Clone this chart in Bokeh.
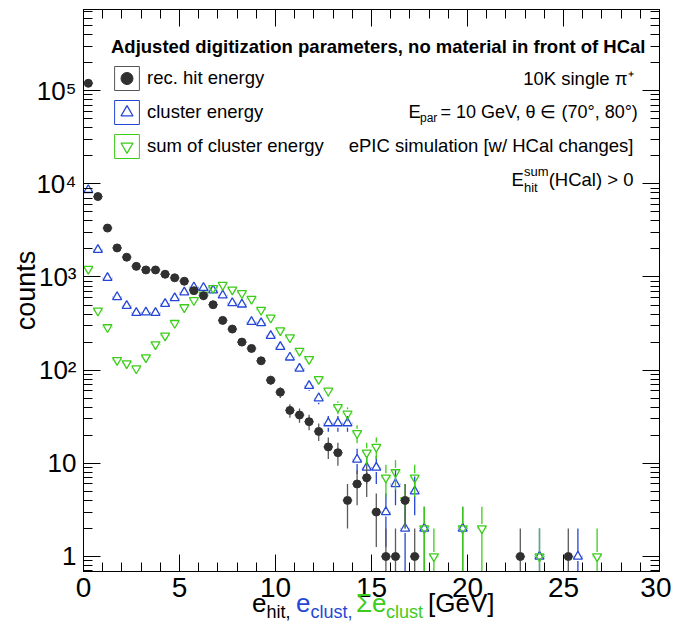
import numpy as np
from bokeh.plotting import figure
from bokeh.layouts import column
from bokeh.models import (Range1d, LinearAxis, LogAxis, FixedTicker, SingleIntervalTicker,
                          Label, Legend, LegendItem, Div)
from bokeh.embed import file_html
from bokeh.resources import INLINE

# ---------------- data ----------------
hit_x = [0.25, 0.75, 1.25, 1.75, 2.25, 2.75, 3.25, 3.75, 4.25, 4.75, 5.25, 5.75, 6.25,
         6.75, 7.25, 7.75, 8.25, 8.75, 9.25, 9.75, 10.25, 10.75, 11.25, 11.75, 12.25,
         12.75, 13.25, 13.75, 14.25, 14.75, 15.25, 15.75, 16.25, 16.75, 17.25, 22.75, 25.25]
hit_y = [120000, 7300, 3350, 2050, 1630, 1300, 1190, 1190, 1070, 980, 900, 713, 630,
         504, 342, 276, 200, 171, 126, 78, 58, 37, 33, 28, 22,
         15, 13, 4, 6, 7, 3, 1, 1, 4, 1, 1, 1]

clu_x = [0.25, 0.75, 1.25, 1.75, 2.25, 2.75, 3.25, 3.75, 4.25, 4.75, 5.25, 5.75, 6.25,
         6.75, 7.25, 7.75, 8.25, 8.75, 9.25, 9.75, 10.25, 10.75, 11.25, 11.75, 12.25,
         12.75, 13.25, 13.75, 14.25, 14.75, 15.25, 15.75, 16.25, 16.75, 17.25, 17.75,
         19.75, 23.75, 25.75]
clu_y = [8600, 1960, 980, 610, 490, 413, 417, 413, 516, 594, 684, 776, 767,
         719, 635, 526, 508, 330, 320, 234, 178, 137, 104, 68, 50,
         27, 27, 27, 11, 9, 9, 3, 6, 2, 5, 2,
         2, 1, 1]

sum_x = [0.25, 0.75, 1.25, 1.75, 2.25, 2.75, 3.25, 3.75, 4.25, 4.75, 5.25, 5.75, 6.25,
         6.75, 7.25, 7.75, 8.25, 8.75, 9.25, 9.75, 10.25, 10.75, 11.25, 11.75, 12.25,
         12.75, 13.25, 13.75, 14.25, 14.75, 15.25, 15.75, 16.25, 16.75, 17.25, 17.75, 18.25,
         19.75, 20.75, 23.75, 26.75]
sum_y = [1220, 434, 288, 128, 118, 104, 137, 189, 234, 320, 472, 562, 646,
         757, 820, 730, 668, 580, 442, 365, 267, 224, 161, 131, 80,
         60, 40, 34, 21, 13, 15, 7, 8, 4, 7, 2, 1,
         2, 2, 1, 1]

bin_width = 0.5
x_ticks_major = [0, 5, 10, 15, 20, 25, 30]
y_ticks_major = [1, 10, 100, 1000, 10000, 100000]
y_tick_labels = ["1", "10", "10²", "10³", "10⁴", "10⁵"]

legend_labels = ["rec. hit energy", "cluster energy", "sum of cluster energy"]
legend_title = "Adjusted digitization parameters, no material in front of HCal"
y_title = "counts"

# ---------------- style / layout ----------------
FONT = "Liberation Sans"
C_HIT, C_HIT_BAR = "#303030", "#5a5a5a"
C_CLU = "#2446d6"
C_SUM = "#3dcc1a"

X_MIN, X_MAX = 0.0, 30.0
Y_MIN, Y_MAX = 0.69, 7.43e5
B_LEFT, B_RIGHT, B_TOP, B_BOTTOM = 83, 12, 9, 40
FRAME_W, FRAME_H = 576, 562
W, H = B_LEFT + FRAME_W + B_RIGHT, B_TOP + FRAME_H + B_BOTTOM
M = 1  # effective page offset of the canvas
L0, L1 = np.log10(Y_MIN), np.log10(Y_MAX)


def xd(px):
    return X_MIN + (px - M - B_LEFT) / FRAME_W * (X_MAX - X_MIN)


def yd(py):
    frac = (M + B_TOP + FRAME_H - py) / FRAME_H
    return 10 ** (L0 + frac * (L1 - L0))


p = figure(width=W, height=H,
           x_range=Range1d(X_MIN, X_MAX), y_range=Range1d(Y_MIN, Y_MAX),
           y_axis_type="log", output_backend="svg", toolbar_location=None,
           min_border_left=B_LEFT, min_border_right=B_RIGHT,
           min_border_top=B_TOP, min_border_bottom=B_BOTTOM)
p.xgrid.visible = False
p.ygrid.visible = False
p.outline_line_color = "black"
p.outline_line_width = 1
p.background_fill_color = "white"
p.border_fill_color = "white"

y_minor = [m * 10.0 ** k for k in range(-1, 6) for m in range(2, 10)
           if Y_MIN <= m * 10.0 ** k <= Y_MAX]


def style_axis(ax, font_size="28px"):
    ax.axis_line_color = "black"
    ax.major_tick_line_color = "black"
    ax.minor_tick_line_color = "black"
    ax.major_tick_in = 17
    ax.major_tick_out = 0
    ax.minor_tick_in = 9
    ax.minor_tick_out = 0
    ax.major_label_text_font = FONT
    ax.major_label_text_font_size = font_size
    ax.major_label_text_color = "black"


xax = p.xaxis[0]
xax.ticker = SingleIntervalTicker(interval=5, num_minor_ticks=5)
style_axis(xax)
xax.major_label_standoff = 6

yax = p.yaxis[0]
yax.ticker = FixedTicker(ticks=y_ticks_major, minor_ticks=y_minor)
style_axis(yax, "26px")
yax.major_label_standoff = 7
yax.major_label_overrides = {t: s for t, s in zip(y_ticks_major, y_tick_labels)}
yax.axis_label = y_title
yax.axis_label_text_font = FONT
yax.axis_label_text_font_size = "27px"
yax.axis_label_text_font_style = "normal"
yax.axis_label_text_color = "black"
yax.axis_label_standoff = -8

top = LinearAxis(ticker=SingleIntervalTicker(interval=5, num_minor_ticks=5))
style_axis(top)
top.major_label_standoff = 0
top.major_label_overrides = {t: "" for t in x_ticks_major}
p.add_layout(top, "above")

right = LogAxis(ticker=FixedTicker(ticks=y_ticks_major, minor_ticks=y_minor))
style_axis(right)
right.major_label_standoff = 0
right.major_label_overrides = {t: "" for t in y_ticks_major}
p.add_layout(right, "right")

PX_PER_X = FRAME_W / (X_MAX - X_MIN)
PX_PER_DEC = FRAME_H / (L1 - L0)


def draw_series(x, y, color, bar_color, marker, size, filled, lw):
    x = np.asarray(x, float)
    y = np.asarray(y, float)
    e = np.sqrt(y)
    lo = np.where(y - e > 0, y - e, 1e-3)
    hi = y + e
    half = size / 2.0
    fac = 10 ** (half / PX_PER_DEC)
    dx = half / PX_PER_X
    m1 = lo < y / fac
    m2 = hi > y * fac
    p.segment(x0=x[m1], y0=lo[m1], x1=x[m1], y1=(y / fac)[m1], line_color=bar_color, line_width=1.3)
    p.segment(x0=x[m2], y0=(y * fac)[m2], x1=x[m2], y1=hi[m2], line_color=bar_color, line_width=1.3)
    p.segment(x0=x - bin_width / 2, y0=y, x1=x - dx, y1=y, line_color=bar_color, line_width=1.3)
    p.segment(x0=x + dx, y0=y, x1=x + bin_width / 2, y1=y, line_color=bar_color, line_width=1.3)
    return p.scatter(x=x, y=y, marker=marker, size=size,
                     line_color=color, fill_color=color if filled else None, line_width=lw)


r_clu = draw_series(clu_x, clu_y, C_CLU, C_CLU, "triangle", 9, False, 1.3)
r_sum = draw_series(sum_x, sum_y, C_SUM, C_SUM, "inverted_triangle", 9, False, 1.3)
r_hit = draw_series(hit_x, hit_y, C_HIT, C_HIT_BAR, "circle", 8, True, 1)


# legend frame boxes: helper quads placed outside the visible x range (only seen in the legend)
def legend_box(color):
    return p.quad(left=[X_MIN - 3], right=[X_MIN - 2], top=[Y_MAX], bottom=[Y_MIN],
                  fill_alpha=0, line_color=color, line_width=1)


box_hit = legend_box("#555555")
box_clu = legend_box(C_CLU)
box_sum = legend_box(C_SUM)

legend = Legend(items=[LegendItem(label=legend_labels[0], renderers=[box_hit, r_hit]),
                       LegendItem(label=legend_labels[1], renderers=[box_clu, r_clu]),
                       LegendItem(label=legend_labels[2], renderers=[box_sum, r_sum])],
                location=(28, 410), title=legend_title,
                title_text_font=FONT, title_text_font_size="18.5px", title_text_font_style="bold",
                title_text_color="black", title_standoff=5,
                label_text_font=FONT, label_text_font_size="18.5px", label_text_color="black",
                glyph_width=31, glyph_height=30, spacing=4, label_standoff=5,
                padding=0, margin=0, border_line_alpha=0, background_fill_alpha=0)
p.add_layout(legend)


def label(px, py, text, size="18.5px", align="left", baseline="middle", color="black"):
    p.add_layout(Label(x=xd(px), y=yd(py), x_units="data", y_units="data", text=text,
                       text_font=FONT, text_font_size=size, text_align=align,
                       text_baseline=baseline, text_color=color))


# right-hand info texts (inside the frame)
label(634, 79, "10K single π⁺", align="right")
label(409, 112, "E")
label(420.5, 118, "par", size="12px")
label(441, 112, "= 10 GeV, θ ∈ (70°, 80°)", size="18px")
label(634, 146, "ePIC simulation [w/ HCal changes]", align="right")
label(512, 180, "E")
label(524.5, 172, "sum", size="13px")
label(524.5, 188, "hit", size="13px")
label(634, 180, "(HCal) > 0", align="right")

# x-axis title as HTML (coloured parts with subscripts), overlapping the figure's bottom border
DIV_TOP = 587          # page y of the title strip
DIV_H = 34
title_parts = [        # (text, page x, main/sub, colour)
    ("e", 253, "main", "black"),
    ("hit,", 267.5, "sub", "black"),
    ("e", 297, "main", C_CLU),
    ("clust,", 311.5, "sub", C_CLU),
    ("Σe", 357, "main", C_SUM),
    ("clust", 387, "sub", C_SUM),
    ("[GeV]", 429, "main", "black"),
]
spans = []
for txt, px, kind, col in title_parts:
    if kind == "main":
        fs, top_px = 26, 591 - DIV_TOP
    else:
        fs, top_px = 18, 604 - DIV_TOP
    spans.append(f'<span style="position:absolute;left:{px - M}px;top:{top_px}px;'
                 f'font-size:{fs}px;line-height:{fs}px;color:{col};">{txt}</span>')
html = (f'<div style="position:relative;width:{W}px;height:{DIV_H}px;'
        f'font-family:\'{FONT}\';white-space:nowrap;">' + "".join(spans) + "</div>")
title_div = Div(text=html, width=W, height=DIV_H, margin=(DIV_TOP - (M + H), 0, 0, 0))

layout = column(p, title_div, spacing=0)
open("out.html", "w").write(file_html(layout, INLINE))
